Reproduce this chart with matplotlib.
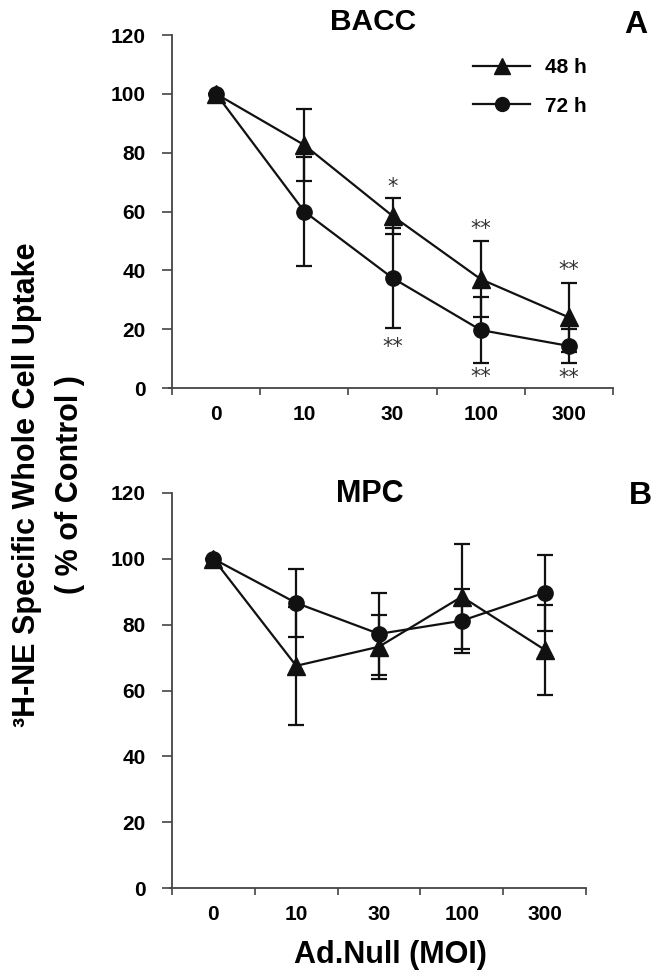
import matplotlib
matplotlib.use("Agg")
import matplotlib.pyplot as plt
from matplotlib.lines import Line2D
import numpy as np

plt.rcParams['font.family'] = ['Liberation Sans', 'DejaVu Sans']
plt.rcParams['font.weight'] = 'bold'

categories = ['0', '10', '30', '100', '300']
series_names = ['48 h', '72 h']

# Panel A (BACC)
bacc_48 = [100, 82.6, 58.5, 37.0, 24.0]
bacc_48_err = [0, 12.4, 6.1, 13.0, 11.7]
bacc_72 = [100, 60.0, 37.4, 19.7, 14.3]
bacc_72_err = [0, 18.6, 17.0, 11.2, 5.8]

# significance marks (category index, y, text)
bacc_marks_x = [2, 3, 4, 2, 3, 4]
bacc_marks_y = [68.3, 54.0, 40.0, 14.0, 3.7, 3.4]
bacc_marks_t = ['*', '**', '**', '**', '**', '**']

# Panel B (MPC)
mpc_48 = [100, 67.5, 73.3, 88.5, 72.4]
mpc_48_err = [0, 18.0, 9.7, 16.0, 13.7]
mpc_72 = [100, 86.6, 77.2, 81.2, 89.7]
mpc_72_err = [0, 10.4, 12.5, 9.7, 11.5]

yticks = [0, 20, 40, 60, 80, 100, 120]

W, H = 658, 976
fig = plt.figure(figsize=(W / 100, H / 100), dpi=100)


def px_axes(l, r, t, b):
    return fig.add_axes([l / W, (H - b) / H, (r - l) / W, (b - t) / H])


axA = px_axes(172, 613, 35, 388)
axB = px_axes(172, 586, 493, 888)

LC = '#111111'
SC = '#444444'


def style(ax):
    for s in ['top', 'right']:
        ax.spines[s].set_visible(False)
    for s in ['left', 'bottom']:
        ax.spines[s].set_color(SC)
        ax.spines[s].set_linewidth(1.3)
    ax.set_xlim(-0.5, 4.5)
    ax.set_ylim(0, 120)
    ax.set_yticks(yticks)
    ax.set_yticklabels([str(v) for v in yticks], fontsize=15, fontweight='bold')
    ax.tick_params(axis='y', length=7, width=1.2, color=SC, pad=12, direction='out')
    x = np.arange(len(categories))
    ax.set_xticks(x)
    ax.set_xticklabels(categories, fontsize=15, fontweight='bold')
    ax.tick_params(axis='x', which='major', length=0, pad=12)
    ax.set_xticks(np.arange(-0.5, len(categories), 1), minor=True)
    ax.tick_params(axis='x', which='minor', length=5, width=1.2, color=SC, direction='out')
    ax.spines['bottom'].set_bounds(-0.53, 4.5)


def draw(ax, s48, e48, s72, e72):
    x = np.arange(len(categories))
    ax.errorbar(x, s48, yerr=e48, color=LC, lw=1.6, elinewidth=1.6, capsize=6,
                capthick=1.6, marker='^', ms=13, mfc=LC, mec=LC, zorder=3)
    ax.errorbar(x, s72, yerr=e72, color=LC, lw=1.6, elinewidth=1.6, capsize=6,
                capthick=1.6, marker='o', ms=11, mfc=LC, mec=LC, zorder=3)


style(axA)
style(axB)
draw(axA, bacc_48, bacc_48_err, bacc_72, bacc_72_err)
draw(axB, mpc_48, mpc_48_err, mpc_72, mpc_72_err)

for xi, yi, t in zip(bacc_marks_x, bacc_marks_y, bacc_marks_t):
    axA.text(xi, yi, t, ha='center', va='center', fontsize=15, color='#333333',
             family=['DejaVu Sans'], fontweight='normal')

handles = [Line2D([], [], color=LC, lw=1.6, marker='^', ms=12, mfc=LC, mec=LC),
           Line2D([], [], color=LC, lw=1.6, marker='o', ms=10, mfc=LC, mec=LC)]
leg = axA.legend(handles, series_names, loc='upper left', bbox_to_anchor=(0.6825, 0.935),
                 frameon=False, fontsize=15, handlelength=2.75, handletextpad=0.7,
                 labelspacing=0.95, borderaxespad=0, borderpad=0)
for t in leg.get_texts():
    t.set_fontweight('bold')

fig.text(373 / W, 1 - 22 / H, 'BACC', ha='center', va='center', fontsize=21.5, fontweight='bold')
fig.text(370 / W, 1 - 494 / H, 'MPC', ha='center', va='center', fontsize=22, fontweight='bold')
fig.text(636 / W, 1 - 25 / H, 'A', ha='center', va='center', fontsize=23, fontweight='bold')
fig.text(640 / W, 1 - 496 / H, 'B', ha='center', va='center', fontsize=23, fontweight='bold')
fig.text(390 / W, 1 - 955 / H, 'Ad.Null (MOI)', ha='center', va='center', fontsize=22, fontweight='bold')
fig.text(27 / W, 1 - 485 / H, '³H-NE Specific Whole Cell Uptake', ha='center', va='center',
         rotation=90, fontsize=22, fontweight='bold')
fig.text(70 / W, 1 - 485 / H, '( % of Control )', ha='center', va='center',
         rotation=90, fontsize=22, fontweight='bold')

fig.savefig('out.png', dpi=100)
